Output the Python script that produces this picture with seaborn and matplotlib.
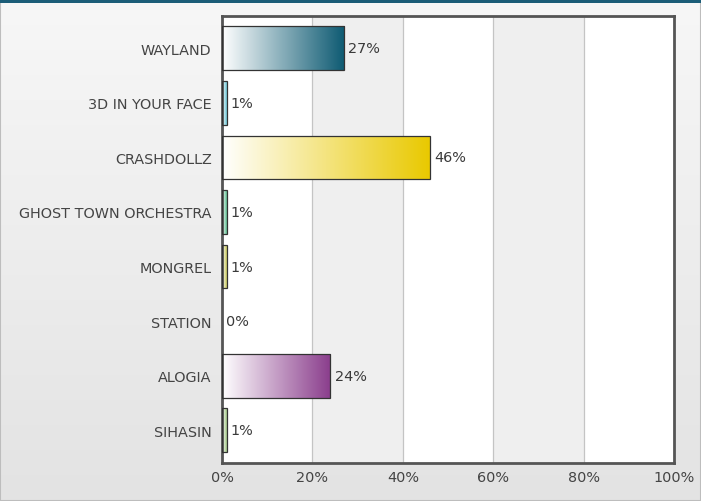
import numpy as np
import matplotlib
matplotlib.use("Agg")
import matplotlib.pyplot as plt
from matplotlib.colors import LinearSegmentedColormap
from matplotlib.patches import Rectangle
import seaborn as sns

categories = ["WAYLAND", "3D IN YOUR FACE", "CRASHDOLLZ", "GHOST TOWN ORCHESTRA",
              "MONGREL", "STATION", "ALOGIA", "SIHASIN"]
values = [27, 1, 46, 1, 1, 0, 24, 1]
colors = ["#0d5a72", "#6cc6d6", "#e9c900", "#5cbf90", "#c8c85a", "#e07030", "#8a3d8c", "#a2c884"]
xticks = [0, 20, 40, 60, 80, 100]
xticklabels = ["0%", "20%", "40%", "60%", "80%", "100%"]

sns.set_style("white")
plt.rcParams["font.family"] = ["DejaVu Sans"]

fig = plt.figure(figsize=(7.01, 5.02), dpi=100)

# figure background gradient
bg = fig.add_axes([0, 0, 1, 1], zorder=-10)
grad = np.linspace(0, 1, 256)[:, None]
bg_cmap = LinearSegmentedColormap.from_list("bg", ["#f7f7f7", "#e3e3e3"])
bg.imshow(grad, cmap=bg_cmap, aspect="auto", extent=[0, 1, 0, 1], origin="upper")
bg.set_xlim(0, 1)
bg.set_ylim(0, 1)
bg.axis("off")
bg.add_patch(Rectangle((0, 0), 1, 1, transform=bg.transAxes, fill=False,
                       edgecolor="#bdbdbd", lw=1.5))
bg.add_patch(Rectangle((0, 1 - 3.5 / 502), 1, 3.5 / 502, transform=bg.transAxes,
                       color="#1b5d78", lw=0))

ax = fig.add_axes([222 / 701, 1 - 464 / 502, (674 - 222) / 701, (464 - 17) / 502])
ax.set_facecolor("white")

sns.barplot(x=values, y=categories, hue=categories, palette=colors, legend=False,
            orient="h", width=0.8, ax=ax, edgecolor="#333333", linewidth=0.9,
            saturation=1)

YLIM = (7.6, -0.59)
ax.set_xlim(0, 100)
ax.set_ylim(*YLIM)

# alternating bands + grid
for a, b in [(20, 40), (60, 80)]:
    ax.axvspan(a, b, color="#efefef", zorder=0, lw=0)
for x in [20, 40, 60, 80]:
    ax.axvline(x, color="#c4c4c4", lw=0.9, zorder=0.5)

# gradient fills
for patch, col in zip(ax.patches, colors):
    x0, y0 = patch.get_x(), patch.get_y()
    w, h = patch.get_width(), patch.get_height()
    patch.set_zorder(3)
    if w <= 0:
        patch.set_visible(False)
        continue
    patch.set_facecolor("none")
    cmap = LinearSegmentedColormap.from_list("g", ["#ffffff", col])
    im = ax.imshow(np.linspace(0, 1, 256)[None, :], cmap=cmap, aspect="auto",
                   extent=[x0, x0 + w, y0 + h, y0], zorder=2, interpolation="bilinear")
    im.set_clip_path(patch)

ax.set_xlim(0, 100)
ax.set_ylim(*YLIM)
ax.set_aspect("auto")

for i, v in enumerate(values):
    ax.text(v + 0.9, i, f"{v}%", va="center", ha="left", fontsize=10.4, color="#3a3a3a", zorder=5)

ax.set_xticks(xticks)
ax.set_xticklabels(xticklabels)
ax.tick_params(axis="both", length=0, labelsize=10.4, labelcolor="#444444")
ax.tick_params(axis="y", pad=7.5)
ax.tick_params(axis="x", pad=5)
ax.set_xlabel("")
ax.set_ylabel("")
for s in ax.spines.values():
    s.set_color("#555555")
    s.set_linewidth(2)
    s.set_visible(True)

fig.savefig("out.png", dpi=100)
